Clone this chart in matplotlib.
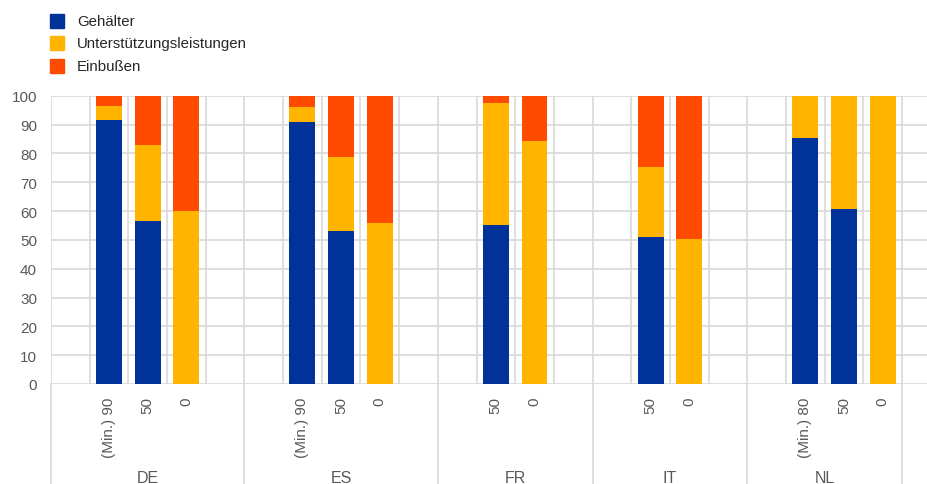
import matplotlib
matplotlib.use("Agg")
import matplotlib.pyplot as plt
from matplotlib.patches import Rectangle
from matplotlib.lines import Line2D

plt.rcParams["font.family"] = ["Liberation Sans", "DejaVu Sans"]

# Countries and the scenarios shown for each of them
countries = ["DE", "ES", "FR", "IT", "NL"]
scenarios = [
    ["(Min.) 90", "50", "0"],
    ["(Min.) 90", "50", "0"],
    ["50", "0"],
    ["50", "0"],
    ["(Min.) 80", "50", "0"],
]

# Shares in percent, one entry per scenario (in the order above)
gehaelter = [91.7, 56.5, 0.0,
             91.0, 53.1, 0.0,
             55.1, 0.0,
             50.9, 0.0,
             85.5, 60.6, 0.0]
unterstuetzung = [4.8, 26.4, 60.0,
                  5.0, 25.6, 55.8,
                  42.2, 84.3,
                  24.4, 50.3,
                  14.5, 39.4, 100.0]
einbussen = [3.5, 17.1, 40.0,
             4.0, 21.3, 44.2,
             2.7, 15.7,
             24.7, 49.7,
             0.0, 0.0, 0.0]

series_names = ["Gehälter", "Unterstützungsleistungen", "Einbußen"]
colors = ["#003299", "#FFB400", "#FF4B00"]

# empty slots before / after the bars of each country group
pad_before = [1, 1, 1, 1, 1]
pad_after = [1, 1, 1, 1, 0]

grid_col = "#d9d9d9"
text_col = "#595959"

fig = plt.figure(figsize=(9.27, 4.85), dpi=100)
ax = fig.add_axes([51 / 927, 100 / 485, 1 - 51 / 927, 288.3 / 485])

# slot positions of bars and group boundaries
positions, labels, boundaries, centers = [], [], [0], []
slot = 0
for c, scen, pb, pa in zip(countries, scenarios, pad_before, pad_after):
    start = slot
    slot += pb
    for s in scen:
        positions.append(slot + 0.5)
        labels.append(s)
        slot += 1
    slot += pa
    boundaries.append(slot)
    centers.append((start + slot) / 2)
n_slots = slot

bottom = [0.0] * len(positions)
for vals, col in zip([gehaelter, unterstuetzung, einbussen], colors):
    ax.bar(positions, vals, width=0.67, bottom=bottom, color=col,
           edgecolor="none", zorder=3)
    bottom = [b + v for b, v in zip(bottom, vals)]

px_per_slot = 851 / n_slots
ax.set_xlim(0, (927 - 51) / px_per_slot)
ax.set_ylim(0, 100)

# grid: horizontal every 10, vertical at every slot boundary
for y in range(0, 101, 10):
    ax.axhline(y, color=grid_col, lw=1.2, zorder=1)
for xb in range(0, n_slots + 1):
    ax.axvline(xb, color=grid_col, lw=1.2, zorder=1)

# group separators reaching down into the label area
for xb in boundaries:
    ax.add_line(Line2D([xb, xb], [0, -0.36], transform=ax.get_xaxis_transform(),
                       color=grid_col, lw=1.2, clip_on=False))

for s in ax.spines.values():
    s.set_visible(False)

ax.set_yticks(range(0, 101, 10))
ax.tick_params(axis="y", length=0, pad=10, labelsize=11, labelcolor=text_col)
ax.set_xticks(positions)
ax.set_xticklabels(labels, rotation=90, va="top", ha="center")
ax.tick_params(axis="x", length=0, pad=9, labelsize=11, labelcolor=text_col)

for c, xc in zip(countries, centers):
    ax.text(xc, -0.325, c, transform=ax.get_xaxis_transform(), ha="center",
            va="center", fontsize=11.5, color=text_col)

# legend
for i, (name, col) in enumerate(zip(series_names, colors)):
    yc = 22 + i * 22.3
    fig.patches.append(Rectangle((50 / 927, 1 - (yc + 7) / 485), 14 / 927, 14 / 485,
                                 transform=fig.transFigure, color=col))
    fig.text(77 / 927, 1 - yc / 485, name, ha="left", va="center",
             fontsize=10.8, color="#262626")

fig.savefig("out.png", dpi=100)
